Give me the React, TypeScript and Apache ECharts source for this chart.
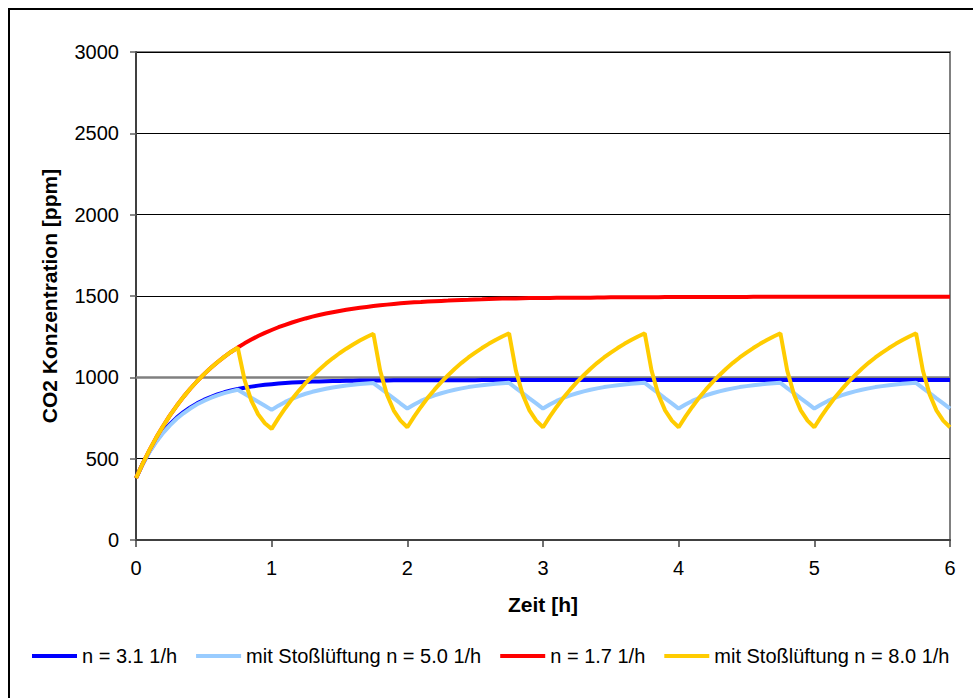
import React, { useEffect, useRef } from "react";
import * as echarts from "echarts";

const hours: number[] = Array.from({ length: 121 }, (_, i) => Math.round(i * 5) / 100);

const seriesNames = [
  "n = 3.1 1/h",
  "mit Stoßlüftung n = 5.0 1/h",
  "n = 1.7 1/h",
  "mit Stoßlüftung n = 8.0 1/h",
];

const seriesColors = ["#0000FF", "#99CCFF", "#FF0000", "#FFCC00"];

const blueN31 = [
  380, 469, 545, 610, 665, 712, 752, 786, 815, 840, 861, 879, 895, 908, 919, 928, 936, 943, 949, 954, 958,
  962, 965, 968, 970, 972, 974, 975, 976, 977, 978, 979, 979, 980, 980, 981, 981, 981, 982, 982, 982,
  982, 982, 982, 982, 982, 982, 982, 982, 982, 982,
  983, 983, 983, 983, 983, 983, 983, 983, 983, 983,
  983, 983, 983, 983, 983, 983, 983, 983, 983, 983,
  983, 983, 983, 983, 983, 983, 983, 983, 983, 983,
  983, 983, 983, 983, 983, 983, 983, 983, 983, 983,
  983, 983, 983, 983, 983, 983, 983, 983, 983, 983,
  983, 983, 983, 983, 983, 983, 983, 983, 983, 983,
  983, 983, 983, 983, 983, 983, 983, 983, 983, 983,
];

const lightBlueN50 = [
  380, 467, 541, 604, 659, 705, 745, 779, 808, 834, 855, 873, 889, 903, 914, 924,
  899, 874, 850, 825, 800,
  826, 849, 868, 885, 899, 911, 921, 930, 938, 944, 950, 954, 959, 962, 965,
  934, 902, 871, 839, 808,
  833, 855, 873, 889, 902, 914, 924, 932, 940, 946, 951, 956, 960, 963, 966,
  934, 903, 871, 840, 808,
  833, 855, 873, 889, 902, 914, 924, 932, 940, 946, 951, 956, 960, 963, 966,
  934, 903, 871, 840, 808,
  833, 855, 873, 889, 902, 914, 924, 932, 940, 946, 951, 956, 960, 963, 966,
  934, 903, 871, 840, 808,
  833, 855, 873, 889, 902, 914, 924, 932, 940, 946, 951, 956, 960, 963, 966,
  934, 903, 871, 840, 808,
];

const redN17 = [
  380, 471, 554, 631, 701, 766, 825, 880, 930, 976, 1018, 1057, 1093, 1126, 1156, 1183, 1209, 1232, 1254, 1273, 1291,
  1308, 1323, 1337, 1350, 1362, 1373, 1383, 1392, 1400, 1408, 1415, 1422, 1428, 1433, 1438, 1443, 1447, 1451, 1455, 1458,
  1461, 1463, 1466, 1468, 1470, 1472, 1474, 1476, 1477, 1479, 1480, 1482, 1483, 1484, 1485, 1485, 1486, 1487, 1487, 1488,
  1488, 1489, 1489, 1489, 1490, 1490, 1490, 1491, 1491, 1492,
  1492, 1492, 1492, 1493, 1493, 1493, 1493, 1494, 1494, 1494,
  1494, 1494, 1494, 1494, 1494, 1494, 1494, 1494, 1494, 1494,
  1495, 1495, 1495, 1495, 1495, 1495, 1495, 1495, 1495, 1495,
  1495, 1495, 1495, 1495, 1495, 1495, 1495, 1495, 1495, 1495,
  1495, 1495, 1495, 1495, 1495, 1495, 1495, 1495, 1495, 1495,
];

const yellowN80 = [
  380, 471, 554, 631, 701, 766, 825, 880, 930, 976, 1018, 1057, 1093, 1126, 1156, 1183,
  985, 857, 773, 718, 683,
  749, 810, 866, 917, 964, 1007, 1047, 1084, 1117, 1148, 1176, 1202, 1226, 1248, 1268,
  1040, 893, 796, 734, 693,
  758, 818, 874, 924, 971, 1013, 1053, 1089, 1122, 1152, 1180, 1206, 1229, 1251, 1271,
  1042, 894, 797, 734, 693,
  758, 818, 874, 924, 971, 1013, 1053, 1089, 1122, 1152, 1180, 1206, 1229, 1251, 1271,
  1042, 894, 797, 734, 693,
  758, 818, 874, 924, 971, 1013, 1053, 1089, 1122, 1152, 1180, 1206, 1229, 1251, 1271,
  1042, 894, 797, 734, 693,
  758, 818, 874, 924, 971, 1013, 1053, 1089, 1122, 1152, 1180, 1206, 1229, 1251, 1271,
  1042, 894, 797, 734, 693,
];

const seriesValues = [blueN31, lightBlueN50, redN17, yellowN80];

const xTicks = { min: 0, max: 6, interval: 1 };
const yTicks = { min: 0, max: 3000, interval: 500 };
const referenceLevel = 1000;

const FONT = "'Liberation Sans', Arial, sans-serif";

export default function App() {
  const ref = useRef<HTMLDivElement>(null);

  useEffect(() => {
    document.body.style.margin = "0";
    if (!ref.current) return;
    const chart = echarts.init(ref.current, null, { renderer: "svg" });

    const series: any[] = seriesNames.map((name, si) => ({
      name,
      type: "line",
      data: hours.map((h, i) => [h, seriesValues[si][i]]),
      showSymbol: false,
      symbol: "none",
      smooth: false,
      lineStyle: { color: seriesColors[si], width: 4 },
      itemStyle: { color: seriesColors[si] },
      z: 3 + si,
      ...(si === 0
        ? {
            markLine: {
              silent: true,
              symbol: "none",
              label: { show: false },
              lineStyle: { color: "#808080", width: 2.5, type: "solid" },
              data: [{ yAxis: referenceLevel }],
              z: 2,
            },
          }
        : {}),
    }));

    chart.setOption({
      animation: false,
      backgroundColor: "#ffffff",
      textStyle: { fontFamily: FONT },
      graphic: [
        {
          type: "rect",
          shape: { x: 9, y: 9, width: 1200, height: 1200 },
          style: { fill: "none", stroke: "#000000", lineWidth: 2 },
          silent: true,
          z: 100,
        },
      ],
      grid: {
        left: 136,
        top: 52,
        right: 23,
        bottom: 158,
        show: true,
        borderColor: "#808080",
        borderWidth: 2,
        backgroundColor: "#ffffff",
      },
      legend: {
        data: seriesNames,
        left: 32,
        top: 646,
        width: 941,
        padding: 0,
        icon: "rect",
        itemWidth: 45,
        itemHeight: 4,
        itemGap: 19,
        textStyle: { fontFamily: FONT, fontSize: 20, color: "#000000" },
      },
      xAxis: {
        type: "value",
        min: xTicks.min,
        max: xTicks.max,
        interval: xTicks.interval,
        name: "Zeit [h]",
        nameLocation: "middle",
        nameGap: 54,
        nameTextStyle: { fontFamily: FONT, fontSize: 21, fontWeight: "bold", color: "#000000" },
        axisLine: { show: true, lineStyle: { color: "#404040", width: 2 } },
        axisTick: { show: true, length: 7, lineStyle: { color: "#404040", width: 1.5 } },
        axisLabel: { fontFamily: FONT, fontSize: 20, color: "#000000", margin: 18, formatter: (v: number) => String(v) },
        splitLine: { show: false },
      },
      yAxis: {
        type: "value",
        min: yTicks.min,
        max: yTicks.max,
        interval: yTicks.interval,
        name: "CO2 Konzentration [ppm]",
        nameLocation: "middle",
        nameGap: 76,
        nameRotate: 90,
        nameTextStyle: { fontFamily: FONT, fontSize: 21, fontWeight: "bold", color: "#000000" },
        axisLine: { show: true, lineStyle: { color: "#404040", width: 2 } },
        axisTick: { show: true, length: 6, lineStyle: { color: "#606060", width: 1.5 } },
        axisLabel: { fontFamily: FONT, fontSize: 20, color: "#000000", margin: 17, formatter: (v: number) => String(v) },
        splitLine: { show: true, lineStyle: { color: "#000000", width: 1 } },
      },
      series,
    });

    return () => {
      chart.dispose();
    };
  }, []);

  return <div ref={ref} style={{ width: 973, height: 698 }} />;
}
